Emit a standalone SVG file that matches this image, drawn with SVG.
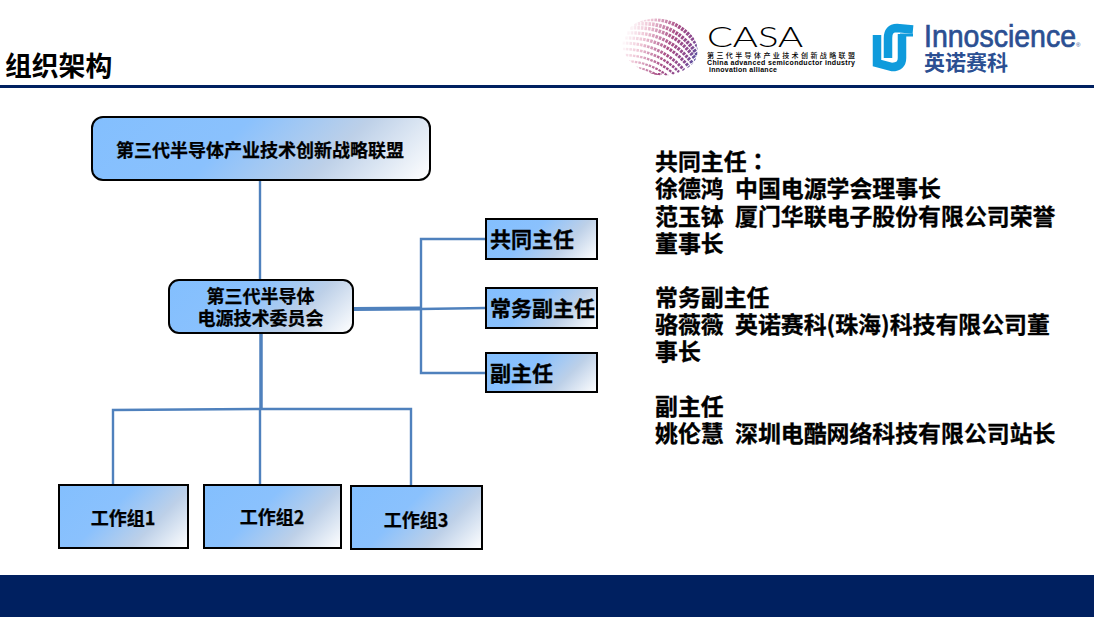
<svg xmlns="http://www.w3.org/2000/svg" width="1094" height="617" viewBox="0 0 1094 617">
<defs>
<linearGradient id="nodeFill">
<stop offset="0" stop-color="#83bffe"/><stop offset="0.4" stop-color="#8ac1fd"/><stop offset="0.7" stop-color="#bdd0e8"/><stop offset="1" stop-color="#ffffff"/>
</linearGradient>
<linearGradient id="g-alliance" href="#nodeFill" gradientUnits="userSpaceOnUse" x1="92" y1="117" x2="292" y2="317"/>
<linearGradient id="g-committee" href="#nodeFill" gradientUnits="userSpaceOnUse" x1="169" y1="280" x2="287" y2="398"/>
<linearGradient id="g-cochair" href="#nodeFill" gradientUnits="userSpaceOnUse" x1="486" y1="219" x2="561" y2="294"/>
<linearGradient id="g-exec" href="#nodeFill" gradientUnits="userSpaceOnUse" x1="486" y1="288" x2="561" y2="363"/>
<linearGradient id="g-vice" href="#nodeFill" gradientUnits="userSpaceOnUse" x1="486" y1="353" x2="561" y2="428"/>
<linearGradient id="g-wg1" href="#nodeFill" gradientUnits="userSpaceOnUse" x1="59" y1="485" x2="155" y2="581"/>
<linearGradient id="g-wg2" href="#nodeFill" gradientUnits="userSpaceOnUse" x1="204" y1="485" x2="304" y2="585"/>
<linearGradient id="g-wg3" href="#nodeFill" gradientUnits="userSpaceOnUse" x1="351" y1="486" x2="448" y2="583"/>
<linearGradient id="sphere" gradientUnits="userSpaceOnUse" x1="625" y1="32" x2="697" y2="62">
<stop offset="0" stop-color="#ffffff"/><stop offset="0.25" stop-color="#efc6d6"/><stop offset="0.6" stop-color="#a84f86"/><stop offset="0.85" stop-color="#8a4a90"/><stop offset="1" stop-color="#4f55a5"/>
</linearGradient>
<clipPath id="sphereClip"><ellipse cx="660" cy="47" rx="38" ry="28" transform="rotate(12 660 47)"/></clipPath>
<style>
text{font-family:"Noto Sans CJK SC","Liberation Sans",sans-serif;font-weight:700;fill:#000}
.node{stroke:#000;stroke-width:2}
.link{fill:none;stroke:#4f81bd;stroke-width:2.4}
.n18{font-size:18px;stroke:#000;stroke-width:.25px}.n21{font-size:21px;stroke:#000;stroke-width:.3px}.info{font-size:22.9px;stroke:#000;stroke-width:.3px}
.arc{fill:none;stroke:url(#sphere);stroke-dasharray:2.6 1}
.brand{fill:#2b4f92}
.latin{font-family:"Liberation Sans",sans-serif}
</style>
</defs>
<rect width="1094" height="617" fill="#fff"/>
<g id="header">
<text x="5" y="76" font-size="26.800">组织架构</text>
<rect x="0" y="85" width="1094" height="3" fill="#002060"/>
</g>
<g id="casa-logo">
<g clip-path="url(#sphereClip)">
<path class="arc" stroke-width="4" d="M640 20Q680 14 700 50"/>
<path class="arc" stroke-width="3.8" d="M634 24Q676 20 698 56"/>
<path class="arc" stroke-width="3.6" d="M630 28Q672 25 696 60"/>
<path class="arc" stroke-width="3.4" d="M627 33Q668 31 693 64"/>
<path class="arc" stroke-width="3.2" d="M625 38Q665 37 689 67"/>
<path class="arc" stroke-width="3" d="M622 43Q660 43 684 70"/>
<path class="arc" stroke-width="2.6" d="M622 49Q656 49 679 72"/>
<path class="arc" stroke-width="2.4" d="M622 55Q652 55 674 74"/>
<path class="arc" stroke-width="2.2" d="M624 61Q648 61 668 76"/>
<path class="arc" stroke-width="2" d="M628 67Q646 67 662 78"/>
<path class="arc" stroke-width="1.8" d="M640 74Q650 74 662 74"/>
</g>
<text x="707" y="47" font-size="28" textLength="96" lengthAdjust="spacingAndGlyphs" style="font-family:Lato,'Liberation Sans',sans-serif;font-weight:300">CASA</text>
<text x="707" y="58" font-size="7" textLength="148" style="font-weight:500">第三代半导体产业技术创新战略联盟</text>
<text class="latin" x="707" y="65" font-size="7" textLength="148">China advanced semiconductor industry</text>
<text class="latin" x="709" y="71.500" font-size="7" textLength="68">innovation alliance</text>
</g>
<g id="innoscience-logo">
<path d="M877 35V63L892 67Q902 67 902 58V34" fill="none" stroke="#0f9bdc" stroke-width="8.500"/>
<path d="M913 29.500L897 28Q888 28 888 38V58" fill="none" stroke="#0f9bdc" stroke-width="8.500"/>
<path d="M900 35H913" fill="none" stroke="#0f9bdc" stroke-width="3"/>
<text class="latin brand" x="924" y="47" font-size="31" textLength="152" lengthAdjust="spacingAndGlyphs" style="font-weight:400;stroke:#2b4f92;stroke-width:.7px">Innoscience</text>
<text class="latin brand" x="1076" y="47" font-size="6" style="font-weight:400">®</text>
<text class="brand" x="924" y="70" font-size="21" style="font-weight:700">英诺赛科</text>
</g>
<g id="connectors">
<path class="link" d="M260 181V280"/>
<path class="link" style="stroke-width:4" d="M354 309L420 308.500"/>
<path class="link" d="M486 239H421V373H486"/>
<path class="link" d="M420 309L486 308"/>
<path class="link" style="stroke-width:3.500" d="M261 333V408"/>
<path class="link" d="M113 485V410L260 409H411V485"/>
<path class="link" d="M260 408V485"/>
</g>
<g id="node-alliance"><rect class="node" fill="url(#g-alliance)" x="92" y="117" width="338" height="63" rx="11"/><text class="n18" x="260" y="157" text-anchor="middle">第三代半导体产业技术创新战略联盟</text></g>
<g id="node-committee"><rect class="node" fill="url(#g-committee)" x="169" y="280" width="184" height="53" rx="10"/><text class="n18" x="260.500" y="303" text-anchor="middle">第三代半导体</text><text class="n18" x="260.500" y="325" text-anchor="middle">电源技术委员会</text></g>
<g id="node-cochair"><rect class="node" fill="url(#g-cochair)" x="486" y="219" width="111" height="40"/><text class="n21" x="490" y="247">共同主任</text></g>
<g id="node-exec"><rect class="node" fill="url(#g-exec)" x="486" y="288" width="111" height="40"/><text class="n21" x="490" y="316">常务副主任</text></g>
<g id="node-vice"><rect class="node" fill="url(#g-vice)" x="486" y="353" width="111" height="39"/><text class="n21" x="490" y="381">副主任</text></g>
<g id="node-wg1"><rect class="node" fill="url(#g-wg1)" x="59" y="485" width="129" height="63"/><text class="n18" x="123" y="525" text-anchor="middle">工作组1</text></g>
<g id="node-wg2"><rect class="node" fill="url(#g-wg2)" x="204" y="485" width="137" height="63"/><text class="n18" x="272" y="524" text-anchor="middle">工作组2</text></g>
<g id="node-wg3"><rect class="node" fill="url(#g-wg3)" x="351" y="486" width="131" height="63"/><text class="n18" x="416" y="527" text-anchor="middle">工作组3</text></g>
<g id="info">
<text class="info" y="169.500"><tspan x="655">共同主任</tspan><tspan style="font-family:'Noto Sans CJK TC',sans-serif">：</tspan></text>
<text class="info" y="197"><tspan x="655">徐德鸿</tspan><tspan x="735">中国电源学会理事长</tspan></text>
<text class="info" y="225"><tspan x="655">范玉钵</tspan><tspan x="735">厦门华联电子股份有限公司荣誉</tspan></text>
<text class="info" y="252"><tspan x="655">董事长</tspan></text>
<text class="info" x="655" y="306">常务副主任</text>
<text class="info" y="333"><tspan x="655">骆薇薇</tspan><tspan x="735">英诺赛科(珠海)科技有限公司董</tspan></text>
<text class="info" x="655" y="360">事长</text>
<text class="info" x="655" y="415">副主任</text>
<text class="info" y="442"><tspan x="655">姚伦慧</tspan><tspan x="735">深圳电酷网络科技有限公司站长</tspan></text>
</g>
<rect id="footer" x="0" y="575" width="1094" height="42" fill="#002060"/>
</svg>
